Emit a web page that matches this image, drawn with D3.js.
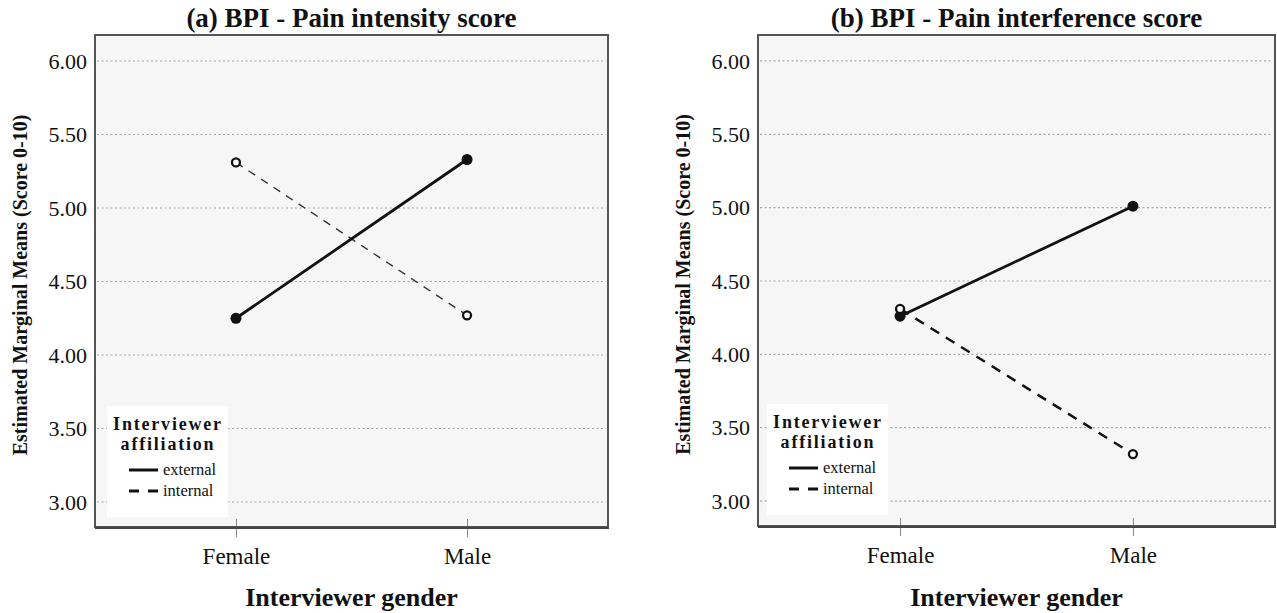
<!DOCTYPE html>
<html>
<head>
<meta charset="utf-8">
<script src="https://cdn.jsdelivr.net/npm/d3@7"></script>
<style>
  body { margin: 0; background: #fff; }
  text { font-family: "Liberation Serif", "Times New Roman", serif; fill: #111; }
</style>
</head>
<body>
<svg id="chart" width="1277" height="613"></svg>
<script>
// x categories + y ticks
var genders = ["Female", "Male"];
var yTicks = [3.00, 3.50, 4.00, 4.50, 5.00, 5.50, 6.00];

// (a) pain intensity
var intensityExternal = [4.25, 5.33];
var intensityInternal = [5.31, 4.27];

// (b) pain interference
var interferenceExternal = [4.26, 5.01];
var interferenceInternal = [4.31, 3.32];

var titles = ["(a) BPI - Pain intensity score", "(b) BPI - Pain interference score"];
var legendTitle = ["Interviewer", "affiliation"];
var legendLabels = ["external", "internal"];

var svg = d3.select("#chart");

// panel boxes (pixel layout)
var panels = [
  { x0: 95,  x1: 608,  y0: 35, y1: 527, ext: intensityExternal,    int: intensityInternal,
    intWidth: 1.4, intDash: "8,7", intColor: "#333", legX: 107, legY: 406 },
  { x0: 758, x1: 1275, y0: 35, y1: 526, ext: interferenceExternal, int: interferenceInternal,
    intWidth: 2.5, intDash: "10,8", intColor: "#111", legX: 767, legY: 404 }
];

panels.forEach(function(p, i) {
  var g = svg.append("g");

  var x = d3.scalePoint()
    .domain(genders)
    .range([p.x0, p.x1])
    .padding(0.61);

  var y = d3.scaleLinear()
    .domain([2.83, 6.177])
    .range([p.y1, p.y0]);

  // background
  g.append("rect")
    .attr("x", p.x0).attr("y", p.y0)
    .attr("width", p.x1 - p.x0).attr("height", p.y1 - p.y0)
    .attr("fill", "#f6f6f6");

  // dotted gridlines
  g.selectAll(".grid")
    .data(yTicks)
    .enter()
    .append("line")
      .attr("x1", p.x0 + 2).attr("x2", p.x1 - 2)
      .attr("y1", function(d){ return y(d) })
      .attr("y2", function(d){ return y(d) })
      .attr("stroke", "#a8a8a8")
      .attr("stroke-width", 1.2)
      .attr("stroke-dasharray", "2,2.5");

  // y axis labels
  var yAxis = g.append("g")
    .attr("transform", "translate(" + (p.x0 - 3) + ",0)")
    .call(d3.axisLeft(y).tickValues(yTicks).tickSize(0).tickPadding(5).tickFormat(d3.format(".2f")));
  yAxis.select(".domain").remove();
  yAxis.selectAll("text")
    .style("font-family", "Liberation Serif")
    .style("font-size", "22px")
    .attr("fill", "#111");

  // x axis: ticks crossing the bottom border + labels
  var xAxis = g.append("g")
    .attr("transform", "translate(0," + p.y1 + ")")
    .call(d3.axisBottom(x).tickSize(10).tickPadding(11));
  xAxis.select(".domain").remove();
  xAxis.selectAll("line").attr("stroke", "#888").attr("y1", -8);
  xAxis.selectAll("text")
    .style("font-family", "Liberation Serif")
    .style("font-size", "23px")
    .attr("fill", "#111");

  // frame
  g.append("rect")
    .attr("x", p.x0).attr("y", p.y0)
    .attr("width", p.x1 - p.x0).attr("height", p.y1 - p.y0)
    .attr("fill", "none")
    .attr("stroke", "#555")
    .attr("stroke-width", 2);
  g.append("line")
    .attr("x1", p.x0).attr("x2", p.x1 + 1)
    .attr("y1", p.y1 + 1).attr("y2", p.y1 + 1)
    .attr("stroke", "#444").attr("stroke-width", 2);

  // titles
  g.append("text")
    .attr("x", (p.x0 + p.x1) / 2).attr("y", 27)
    .attr("text-anchor", "middle")
    .style("font-size", "27px").style("font-weight", "bold")
    .text(titles[i]);

  g.append("text")
    .attr("x", (p.x0 + p.x1) / 2).attr("y", 606)
    .attr("text-anchor", "middle")
    .style("font-size", "26px").style("font-weight", "bold")
    .text("Interviewer gender");

  var cy = (p.y0 + p.y1) / 2 + 4;
  g.append("text")
    .attr("transform", "translate(" + (p.x0 - 68) + "," + cy + ") rotate(-90)")
    .attr("text-anchor", "middle")
    .style("font-size", "20px").style("font-weight", "bold")
    .text("Estimated Marginal Means (Score 0-10)");

  var line = d3.line()
    .x(function(d, j){ return x(genders[j]) })
    .y(function(d){ return y(d) });

  // internal (dashed)
  g.append("path")
    .datum(p.int)
    .attr("d", line)
    .attr("fill", "none")
    .attr("stroke", p.intColor)
    .attr("stroke-width", p.intWidth)
    .attr("stroke-dasharray", p.intDash);

  // external (solid)
  g.append("path")
    .datum(p.ext)
    .attr("d", line)
    .attr("fill", "none")
    .attr("stroke", "#111")
    .attr("stroke-width", 2.8);

  g.selectAll(".extPt")
    .data(p.ext)
    .enter()
    .append("circle")
      .attr("cx", function(d, j){ return x(genders[j]) })
      .attr("cy", function(d){ return y(d) })
      .attr("r", 5.5)
      .attr("fill", "#111");

  g.selectAll(".intPt")
    .data(p.int)
    .enter()
    .append("circle")
      .attr("cx", function(d, j){ return x(genders[j]) })
      .attr("cy", function(d){ return y(d) })
      .attr("r", 4)
      .attr("fill", "#fff")
      .attr("stroke", "#111")
      .attr("stroke-width", 2.3);

  // legend
  var lg = g.append("g").attr("transform", "translate(" + p.legX + "," + p.legY + ")");
  lg.append("rect")
    .attr("width", 121).attr("height", 111)
    .attr("fill", "#fff");
  lg.selectAll(".lt")
    .data(legendTitle)
    .enter()
    .append("text")
      .attr("x", 61)
      .attr("y", function(d, j){ return 24 + j * 20 })
      .attr("text-anchor", "middle")
      .style("font-size", "18px").style("font-weight", "bold")
      .style("letter-spacing", "1.8px")
      .text(function(d){ return d });
  legendLabels.forEach(function(lab, j) {
    var ly = 64 + j * 21;
    lg.append("line")
      .attr("x1", 22).attr("x2", 51)
      .attr("y1", ly).attr("y2", ly)
      .attr("stroke", "#111")
      .attr("stroke-width", 3)
      .attr("stroke-dasharray", j == 1 ? "10,9" : null);
    lg.append("text")
      .attr("x", 56).attr("y", ly + 5)
      .style("font-size", "16.5px")
      .text(lab);
  });
});
</script>
</body>
</html>
